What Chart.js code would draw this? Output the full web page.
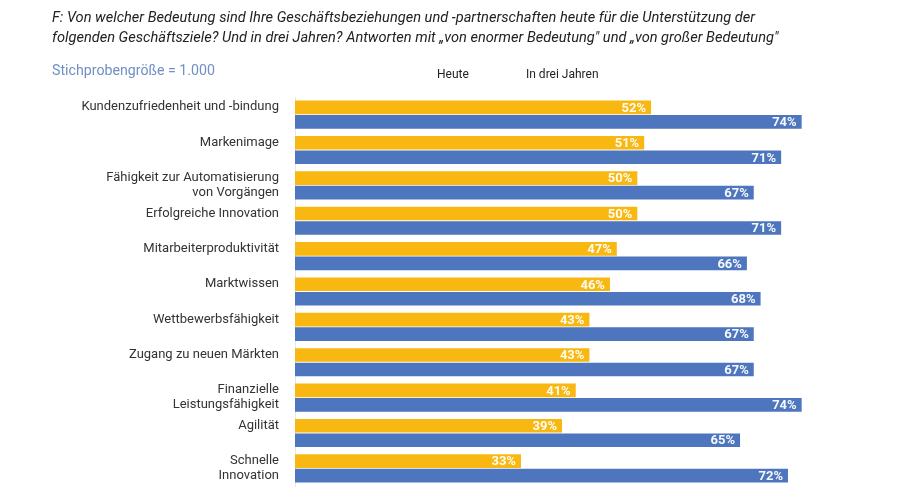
<!DOCTYPE html>
<html lang="de">
<head>
<meta charset="utf-8">
<script src="https://cdn.jsdelivr.net/npm/chart.js@4.4.0/dist/chart.umd.min.js"></script>
<style>
  body { margin: 0; background: #fff; }
  #wrap { position: relative; width: 900px; height: 495px; overflow: hidden; font-family: Roboto, "Noto Sans", sans-serif; }
  #chart { position: absolute; left: 0; top: 0; }
  .title { position: absolute; left: 52px; top: 7px; font-size: 14.6px; font-style: italic; color: #222; line-height: 20px; }
  .sample { position: absolute; left: 52px; top: 62px; font-size: 14.2px; color: #6f8fc6; }
  .legend span { position: absolute; top: 67px; font-size: 12px; color: #222; white-space: nowrap; }
</style>
</head>
<body>
<div id="wrap">
  <canvas id="chart" width="900" height="495"></canvas>
  <div class="title">F: Von welcher Bedeutung sind Ihre Geschäftsbeziehungen und -partnerschaften heute für die Unterstützung der<br>folgenden Geschäftsziele? Und in drei Jahren? Antworten mit „von enormer Bedeutung" und „von großer Bedeutung"</div>
  <div class="sample">Stichprobengröße = 1.000</div>
  <div class="legend" id="legend"></div>
</div>
<script>
// Categories and values
var categories = [
    ['Kundenzufriedenheit und -bindung'],
    ['Markenimage'],
    ['Fähigkeit zur Automatisierung', 'von Vorgängen'],
    ['Erfolgreiche Innovation'],
    ['Mitarbeiterproduktivität'],
    ['Marktwissen'],
    ['Wettbewerbsfähigkeit'],
    ['Zugang zu neuen Märkten'],
    ['Finanzielle', 'Leistungsfähigkeit'],
    ['Agilität'],
    ['Schnelle', 'Innovation']
];
var seriesNames = ['Heute', 'In drei Jahren'];
var heute = [52, 51, 50, 50, 47, 46, 43, 43, 41, 39, 33];
var inDreiJahren = [74, 71, 67, 71, 66, 68, 67, 67, 74, 65, 72];
var colors = ['#f8b811', '#4e76be'];

// Draw the value labels inside the end of each bar
var valueLabels = {
    id: 'valueLabels',
    afterDatasetsDraw: function(chart) {
        var ctx = chart.ctx;
        ctx.save();
        ctx.font = 'bold 13px Roboto, sans-serif';
        ctx.fillStyle = 'rgba(255,255,255,0.95)';
        ctx.textAlign = 'right';
        ctx.textBaseline = 'middle';
        chart.data.datasets.forEach(function(ds, i) {
            chart.getDatasetMeta(i).data.forEach(function(bar, j) {
                ctx.fillText(ds.data[j] + '%', bar.x - 5, bar.y + 1);
            });
        });
        ctx.restore();
    }
};

var ctx = document.getElementById('chart').getContext('2d');
var myChart = new Chart(ctx, {
    type: 'bar',
    data: {
        labels: categories,
        datasets: [{
            label: seriesNames[0],
            data: heute,
            backgroundColor: colors[0]
        }, {
            label: seriesNames[1],
            data: inDreiJahren,
            backgroundColor: colors[1]
        }]
    },
    options: {
        indexAxis: 'y',
        responsive: false,
        animation: false,
        barPercentage: 0.94,
        categoryPercentage: 0.82,
        layout: {
            padding: { top: 97, bottom: 9, right: 23, left: 0 }
        },
        plugins: {
            legend: { display: false },
            tooltip: { enabled: false }
        },
        scales: {
            x: {
                display: false,
                min: 0,
                max: 85
            },
            y: {
                afterFit: function(scale) {
                    scale.width = 295;
                    scale.paddingTop = 0;
                    scale.paddingBottom = 0;
                },
                grid: { display: false, drawTicks: false },
                border: { display: true, color: '#e6e6e6', width: 1 },
                ticks: {
                    padding: 16,
                    color: '#333',
                    font: { family: 'Roboto, sans-serif', size: 13, lineHeight: 1.15 },
                    callback: function(value, index) {
                        var lab = categories[index];
                        // single-line labels sit a little above the bar pair
                        return lab.length === 1 ? [lab[0], ''] : lab;
                    }
                }
            }
        }
    },
    plugins: [valueLabels]
});

// Legend: plain text labels without colour boxes
var legendPos = [437, 526];
var legend = document.getElementById('legend');
seriesNames.forEach(function(name, i) {
    var s = document.createElement('span');
    s.textContent = name;
    s.style.left = legendPos[i] + 'px';
    legend.appendChild(s);
});
</script>
</body>
</html>
